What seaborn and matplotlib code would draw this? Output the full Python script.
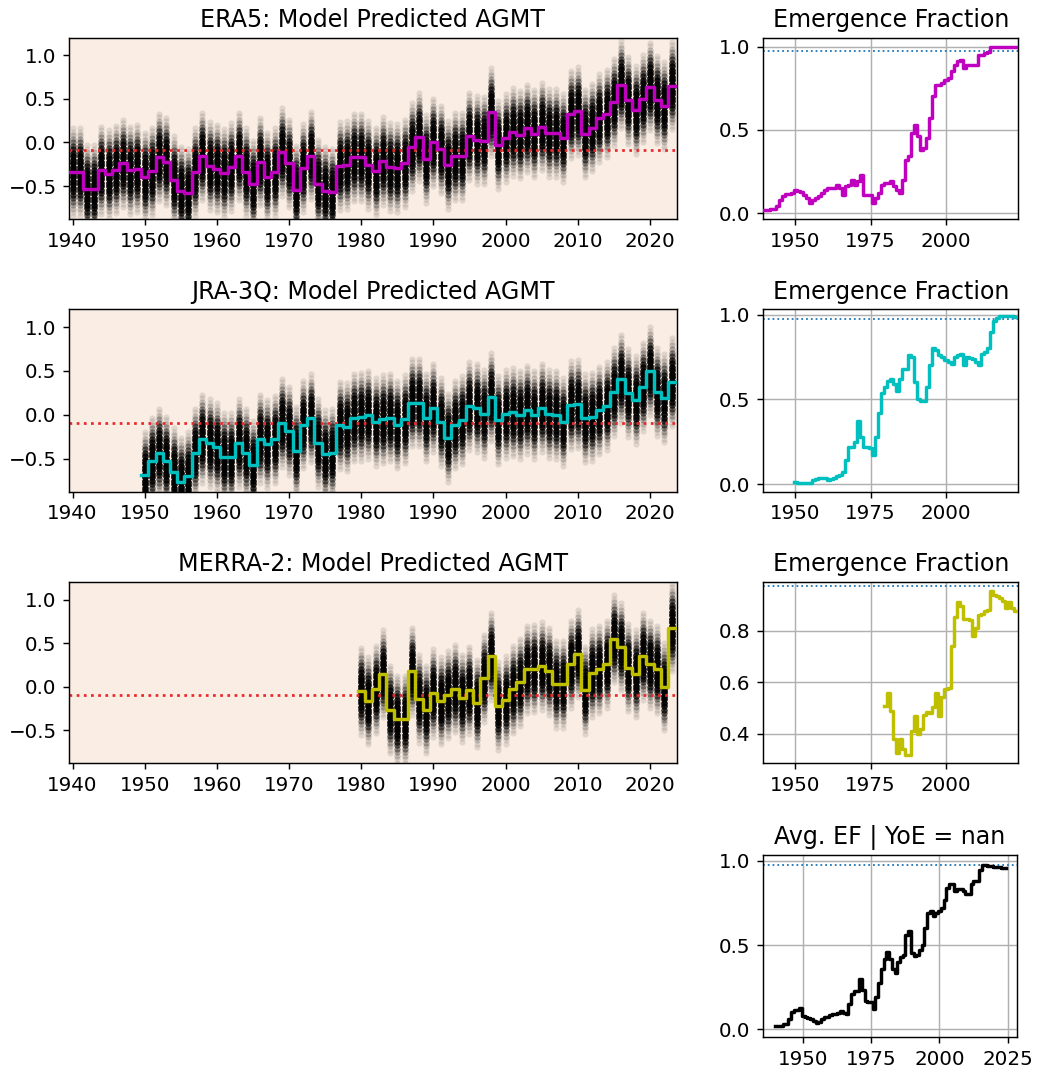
import numpy as np
import pandas as pd
import matplotlib
matplotlib.use("Agg")
import matplotlib.pyplot as plt
import seaborn as sns

plt.rcParams["font.size"] = 11

# ---------------- data ----------------
era5_years = list(range(1940, 2024))
era5_agmt = [-0.34, -0.34, -0.53, -0.53, -0.32, -0.36, -0.31, -0.24, -0.32, -0.30,
             -0.39, -0.33, -0.17, -0.22, -0.43, -0.55, -0.58, -0.34, -0.16, -0.27,
             -0.30, -0.35, -0.28, -0.16, -0.34, -0.48, -0.22, -0.39, -0.34, -0.11,
             -0.24, -0.54, -0.29, -0.15, -0.47, -0.55, -0.57, -0.27, -0.26, -0.17,
             -0.17, -0.26, -0.33, -0.21, -0.28, -0.29, -0.24, -0.05, 0.06, -0.19,
             0.00, -0.08, -0.26, -0.16, -0.16, 0.07, 0.03, 0.02, 0.35, -0.03,
             0.05, 0.12, 0.09, 0.16, 0.10, 0.18, 0.11, 0.11, 0.05, 0.32,
             0.36, 0.10, 0.17, 0.28, 0.33, 0.46, 0.66, 0.48, 0.37, 0.50,
             0.64, 0.49, 0.42, 0.65]

jra_years = list(range(1950, 2024))
jra_agmt = [-0.69, -0.53, -0.43, -0.52, -0.65, -0.76, -0.70, -0.43, -0.27, -0.32,
            -0.37, -0.48, -0.48, -0.32, -0.43, -0.57, -0.27, -0.33, -0.28, -0.09,
            -0.18, -0.41, -0.11, -0.04, -0.32, -0.45, -0.43, -0.12, -0.14, -0.03,
            -0.02, 0.00, -0.08, -0.05, -0.03, -0.11, -0.05, 0.14, 0.14, -0.03,
            0.08, -0.08, -0.26, -0.11, -0.06, 0.10, 0.08, 0.01, 0.20, -0.06,
            0.01, 0.03, 0.00, 0.06, 0.00, 0.08, 0.01, 0.00, -0.08, 0.11,
            0.12, -0.04, -0.02, 0.05, 0.10, 0.26, 0.41, 0.25, 0.17, 0.32,
            0.50, 0.26, 0.19, 0.37]

merra_years = list(range(1980, 2024))
merra_agmt = [-0.05, -0.16, -0.03, 0.15, -0.26, -0.37, -0.37, 0.18, -0.14, -0.26,
              -0.07, -0.16, -0.09, -0.02, -0.13, -0.04, -0.19, 0.10, 0.35, -0.22,
              -0.15, -0.03, 0.05, 0.20, 0.21, 0.24, 0.18, 0.03, 0.03, 0.26,
              0.38, -0.04, 0.16, 0.20, 0.26, 0.55, 0.46, 0.22, 0.15, 0.35,
              0.26, 0.20, 0.00, 0.68]

# ensemble spread around the annual value (offset bins and member counts)
spread_offsets = [-0.50, -0.46, -0.42, -0.38, -0.34, -0.30, -0.26, -0.22, -0.18, -0.14,
                  -0.10, -0.06, -0.02, 0.02, 0.06, 0.10, 0.14, 0.18, 0.22, 0.26,
                  0.30, 0.34, 0.38, 0.42, 0.46, 0.50]
spread_counts = [1, 1, 2, 3, 5, 8, 12, 16, 20, 22, 24, 25, 25,
                 25, 25, 24, 22, 20, 16, 12, 8, 5, 3, 2, 1, 1]

baseline_agmt = -0.09
ef_threshold = 0.975

era5_ef = [0.02, 0.02, 0.025, 0.027, 0.04, 0.08, 0.10, 0.115, 0.115, 0.12,
           0.14, 0.13, 0.125, 0.11, 0.09, 0.06, 0.08, 0.09, 0.10, 0.12,
           0.14, 0.15, 0.15, 0.15, 0.17, 0.15, 0.11, 0.16, 0.17, 0.20,
           0.17, 0.19, 0.23, 0.11, 0.11, 0.11, 0.06, 0.09, 0.12, 0.17,
           0.18, 0.18, 0.19, 0.16, 0.14, 0.12, 0.20, 0.32, 0.34, 0.48,
           0.53, 0.46, 0.38, 0.39, 0.45, 0.57, 0.70, 0.77, 0.77, 0.78,
           0.80, 0.81, 0.85, 0.89, 0.91, 0.92, 0.87, 0.89, 0.89, 0.89,
           0.89, 0.95, 0.95, 0.96, 0.965, 1.0, 1.0, 1.0, 1.0, 1.0,
           1.0, 1.0, 1.0, 1.0]

jra_ef = [0.01, 0.008, 0.006, 0.005, 0.004, 0.004, 0.025, 0.03, 0.035, 0.035,
          0.035, 0.025, 0.03, 0.035, 0.05, 0.055, 0.07, 0.14, 0.22, 0.22,
          0.25, 0.37, 0.28, 0.22, 0.22, 0.21, 0.17, 0.28, 0.42, 0.54,
          0.57, 0.61, 0.62, 0.59, 0.55, 0.62, 0.68, 0.68, 0.76, 0.75,
          0.60, 0.50, 0.49, 0.49, 0.57, 0.70, 0.80, 0.79, 0.76, 0.75,
          0.73, 0.72, 0.71, 0.75, 0.76, 0.765, 0.70, 0.75, 0.745, 0.74,
          0.72, 0.70, 0.77, 0.78, 0.80, 0.90, 0.96, 0.98, 0.99, 0.99,
          0.99, 0.99, 0.99, 0.985]

merra_ef = [0.51, 0.56, 0.49, 0.38, 0.325, 0.38, 0.34, 0.32, 0.32, 0.41,
            0.47, 0.40, 0.42, 0.475, 0.485, 0.48, 0.505, 0.56, 0.47, 0.545,
            0.575, 0.58, 0.74, 0.855, 0.91, 0.895, 0.845, 0.845, 0.84, 0.78,
            0.81, 0.86, 0.865, 0.875, 0.88, 0.955, 0.94, 0.935, 0.925, 0.915,
            0.89, 0.91, 0.89, 0.875]

avg_years = list(range(1940, 2025))
avg_ef = [0.022, 0.017, 0.018, 0.03, 0.032, 0.06, 0.105, 0.113, 0.117, 0.125,
          0.08, 0.075, 0.068, 0.06, 0.05, 0.04, 0.045, 0.062, 0.072, 0.075,
          0.085, 0.088, 0.09, 0.097, 0.11, 0.095, 0.09, 0.15, 0.21, 0.225,
          0.23, 0.30, 0.235, 0.17, 0.163, 0.16, 0.12, 0.19, 0.275, 0.36,
          0.42, 0.46, 0.42, 0.355, 0.335, 0.40, 0.43, 0.44, 0.557, 0.586,
          0.45, 0.435, 0.44, 0.47, 0.50, 0.60, 0.693, 0.70, 0.674, 0.69,
          0.70, 0.72, 0.77, 0.84, 0.86, 0.86, 0.82, 0.83, 0.83, 0.82,
          0.80, 0.80, 0.86, 0.88, 0.88, 0.945, 0.975, 0.975, 0.97, 0.97,
          0.965, 0.96, 0.96, 0.955, 0.955]

datasets = [
    ("ERA5", era5_years, era5_agmt, era5_ef, "m"),
    ("JRA-3Q", jra_years, jra_agmt, jra_ef, "c"),
    ("MERRA-2", merra_years, merra_agmt, merra_ef, "y"),
]

# ---------------- figure ----------------
DPI = 130
fig = plt.figure(figsize=(1037 / DPI, 1072 / DPI), dpi=DPI)

left_pos = [(0.0668, 0.7957, 0.5857, 0.1693),
            (0.0668, 0.5413, 0.5857, 0.1700),
            (0.0668, 0.2881, 0.5857, 0.1688)]
right_pos = [(0.7361, 0.7957, 0.2459, 0.1693),
             (0.7361, 0.5413, 0.2459, 0.1700),
             (0.7361, 0.2881, 0.2459, 0.1688)]
ef_ylims = [(-0.036, 1.054), (-0.045, 1.03), (0.287, 0.988)]
ef_yticks = [[0.0, 0.5, 1.0], [0.0, 0.5, 1.0], [0.4, 0.6, 0.8]]

members = np.repeat(spread_offsets, spread_counts)


def step_frame(years, values):
    yrs = np.asarray(years, dtype=float)
    vals = np.asarray(values, dtype=float)
    edges = np.append(yrs - 0.5, yrs[-1] + 0.5)
    return pd.DataFrame({"x": edges, "y": np.append(vals, vals[-1])})


for i, (name, years, agmt, ef, col) in enumerate(datasets):
    ax = fig.add_axes(left_pos[i])
    ax.set_facecolor("#faeee4")
    cloud = pd.DataFrame({
        "year": np.repeat(years, len(members)),
        "agmt": np.repeat(agmt, len(members)) + np.tile(members, len(years)),
    })
    sns.scatterplot(data=cloud, x="year", y="agmt", color="k", alpha=0.1,
                    s=12, linewidth=0, ax=ax, legend=False, zorder=1)
    ax.axhline(baseline_agmt, color="#e8282b", ls=":", lw=1.5, zorder=2)
    sf = step_frame(years, agmt)
    sns.lineplot(data=sf, x="x", y="y", drawstyle="steps-post", color=col,
                 lw=1.9, ax=ax, sort=False, estimator=None, zorder=3)
    ax.set_xlim(1939.55, 2023.7)
    ax.set_ylim(-0.875, 1.20)
    ax.set_xticks(list(range(1940, 2021, 10)))
    ax.set_yticks([-0.5, 0.0, 0.5, 1.0])
    ax.set_xlabel("")
    ax.set_ylabel("")
    ax.set_title(f"{name}: Model Predicted AGMT")

    axr = fig.add_axes(right_pos[i])
    sf2 = step_frame(years, ef)
    sns.lineplot(data=sf2, x="x", y="y", drawstyle="steps-post", color=col,
                 lw=1.9, ax=axr, sort=False, estimator=None, zorder=3)
    axr.axhline(ef_threshold, color="tab:blue", ls=":", lw=1.0, zorder=2)
    axr.set_xlim(1939.4, 2024.0)
    axr.set_ylim(*ef_ylims[i])
    axr.set_xticks([1950, 1975, 2000])
    axr.set_yticks(ef_yticks[i])
    axr.grid(True, color="#b0b0b0", lw=0.8)
    axr.set_axisbelow(True)
    axr.set_xlabel("")
    axr.set_ylabel("")
    axr.set_title("Emergence Fraction")

ax4 = fig.add_axes((0.7361, 0.0326, 0.2444, 0.1698))
sf4 = step_frame(avg_years, avg_ef)
sns.lineplot(data=sf4, x="x", y="y", drawstyle="steps-post", color="k",
             lw=1.9, ax=ax4, sort=False, estimator=None, zorder=3)
ax4.axhline(ef_threshold, color="tab:blue", ls=":", lw=1.0, zorder=2)
ax4.set_xlim(1935.3, 2028.4)
ax4.set_ylim(-0.046, 1.034)
ax4.set_xticks([1950, 1975, 2000, 2025])
ax4.set_yticks([0.0, 0.5, 1.0])
ax4.grid(True, color="#b0b0b0", lw=0.8)
ax4.set_axisbelow(True)
ax4.set_xlabel("")
ax4.set_ylabel("")
ax4.set_title("Avg. EF | YoE = nan")

fig.savefig("out.png", dpi=DPI)
